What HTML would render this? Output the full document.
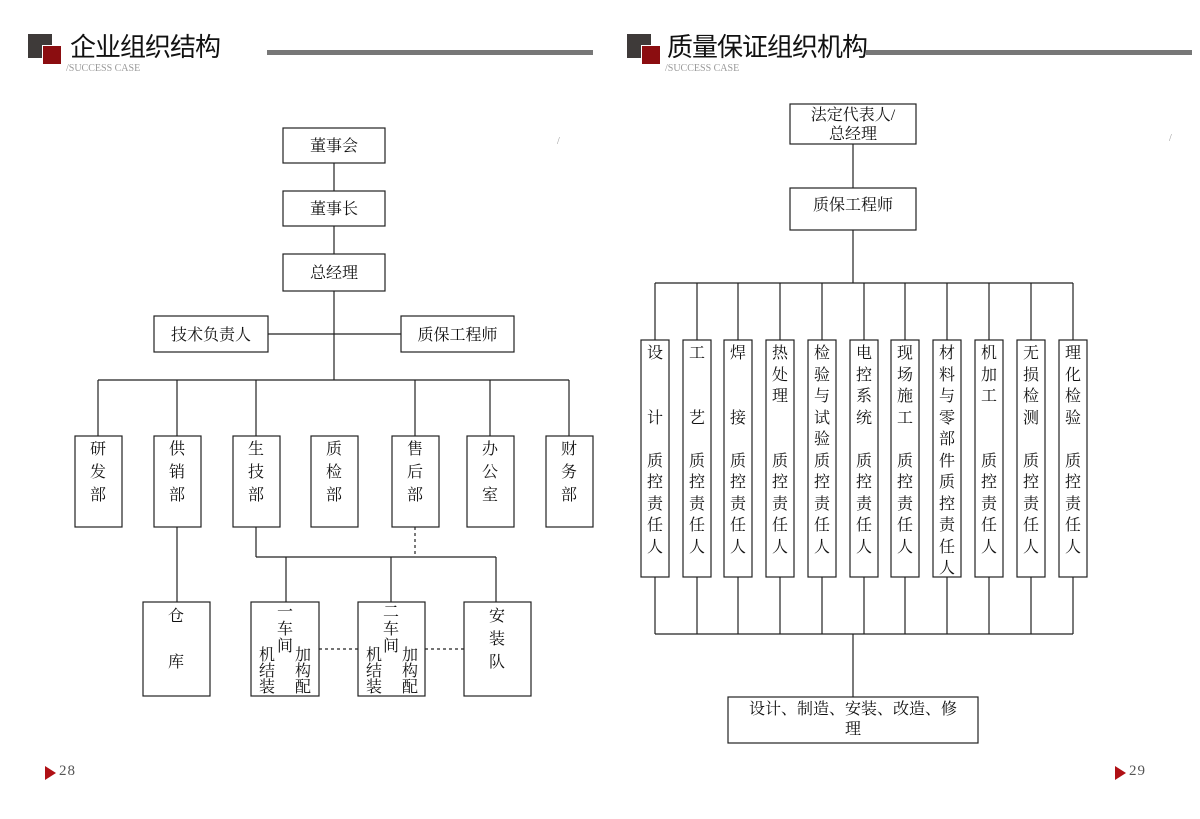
<!DOCTYPE html>
<html><head><meta charset="utf-8"><style>
body{margin:0;width:1200px;height:819px;background:#fff;position:relative;overflow:hidden;font-family:"Liberation Serif","Noto Serif CJK SC","Noto Sans CJK SC",serif;color:#111}
.a{position:absolute}
.v{position:absolute;font-size:16px;line-height:21.5px;text-align:center;width:20px}
.t{position:absolute;font-size:16px;text-align:center}
svg{position:absolute;left:0;top:0}
.h{font-family:"Noto Sans CJK SC",sans-serif;font-size:26px;letter-spacing:-1px;color:#111}
.s{font-family:"Liberation Serif",serif;font-size:10px;color:#999}
</style></head><body>
<div class="a" style="left:28px;top:34px;width:24px;height:24px;background:#3e3a39"></div>
<div class="a" style="left:42px;top:45px;width:18px;height:18px;background:#8b0d10;border:1px solid #fff"></div>
<div class="a h" style="left:70px;top:27px">企业组织结构</div>
<div class="a s" style="left:66px;top:63px">/SUCCESS CASE</div>
<div class="a" style="left:267px;top:50px;width:326px;height:5px;background:#777"></div>
<div class="a" style="left:627px;top:34px;width:24px;height:24px;background:#3e3a39"></div>
<div class="a" style="left:641px;top:45px;width:18px;height:18px;background:#8b0d10;border:1px solid #fff"></div>
<div class="a h" style="left:667px;top:27px">质量保证组织机构</div>
<div class="a s" style="left:665px;top:63px">/SUCCESS CASE</div>
<div class="a" style="left:866px;top:50px;width:326px;height:5px;background:#777"></div>
<div class="a s" style="left:557px;top:136px">/</div>
<div class="a s" style="left:1169px;top:133px">/</div>
<div class="a" style="left:45px;top:766px;width:0;height:0;border-left:11px solid #b01015;border-top:7px solid transparent;border-bottom:7px solid transparent"></div>
<div class="a" style="left:59px;top:763px;font-size:15px;color:#555;letter-spacing:1px">28</div>
<div class="a" style="left:1115px;top:766px;width:0;height:0;border-left:11px solid #b01015;border-top:7px solid transparent;border-bottom:7px solid transparent"></div>
<div class="a" style="left:1129px;top:763px;font-size:15px;color:#555;letter-spacing:1px">29</div>

<svg width="1200" height="819" fill="none" stroke="#222" stroke-width="1.2">
<!-- left -->
<rect x="283" y="128" width="102" height="35"/><rect x="283" y="191" width="102" height="35"/><rect x="283" y="254" width="102" height="37"/>
<rect x="154" y="316" width="114" height="36"/><rect x="401" y="316" width="113" height="36"/>
<line x1="334" y1="163" x2="334" y2="191"/><line x1="334" y1="226" x2="334" y2="254"/><line x1="334" y1="291" x2="334" y2="380"/>
<line x1="268" y1="334" x2="401" y2="334"/>
<line x1="98" y1="380" x2="569" y2="380"/>
<g>
<line x1="98" y1="380" x2="98" y2="436"/><line x1="177" y1="380" x2="177" y2="436"/><line x1="256" y1="380" x2="256" y2="436"/><line x1="415" y1="380" x2="415" y2="436"/><line x1="490" y1="380" x2="490" y2="436"/><line x1="569" y1="380" x2="569" y2="436"/>
</g>
<rect x="75" y="436" width="47" height="91"/><rect x="154" y="436" width="47" height="91"/><rect x="233" y="436" width="47" height="91"/><rect x="311" y="436" width="47" height="91"/><rect x="392" y="436" width="47" height="91"/><rect x="467" y="436" width="47" height="91"/><rect x="546" y="436" width="47" height="91"/>
<line x1="177" y1="527" x2="177" y2="602"/>
<line x1="256" y1="527" x2="256" y2="557"/><line x1="256" y1="557" x2="496" y2="557"/>
<line x1="415" y1="527" x2="415" y2="557" stroke-dasharray="3,3"/>
<line x1="286" y1="557" x2="286" y2="602"/><line x1="391" y1="557" x2="391" y2="602"/><line x1="496" y1="557" x2="496" y2="602"/>
<rect x="143" y="602" width="67" height="94"/><rect x="251" y="602" width="68" height="94"/><rect x="358" y="602" width="67" height="94"/><rect x="464" y="602" width="67" height="94"/>
<line x1="319" y1="649" x2="358" y2="649" stroke-dasharray="3,3"/><line x1="425" y1="649" x2="464" y2="649" stroke-dasharray="3,3"/>
<!-- right -->
<rect x="790" y="104" width="126" height="40"/><rect x="790" y="188" width="126" height="42"/>
<line x1="853" y1="144" x2="853" y2="188"/><line x1="853" y1="230" x2="853" y2="283"/>
<line x1="655" y1="283" x2="1073" y2="283"/><line x1="655" y1="634" x2="1073" y2="634"/>
<line x1="853" y1="634" x2="853" y2="697"/>
<rect x="728" y="697" width="250" height="46"/>
<g>
<line x1="655" y1="283" x2="655" y2="634"/><line x1="697" y1="283" x2="697" y2="634"/><line x1="738" y1="283" x2="738" y2="634"/><line x1="780" y1="283" x2="780" y2="634"/><line x1="822" y1="283" x2="822" y2="634"/><line x1="864" y1="283" x2="864" y2="634"/><line x1="905" y1="283" x2="905" y2="634"/><line x1="947" y1="283" x2="947" y2="634"/><line x1="989" y1="283" x2="989" y2="634"/><line x1="1031" y1="283" x2="1031" y2="634"/><line x1="1073" y1="283" x2="1073" y2="634"/>
</g>
<g fill="#fff">
<rect x="641" y="340" width="28" height="237"/><rect x="683" y="340" width="28" height="237"/><rect x="724" y="340" width="28" height="237"/><rect x="766" y="340" width="28" height="237"/><rect x="808" y="340" width="28" height="237"/><rect x="850" y="340" width="28" height="237"/><rect x="891" y="340" width="28" height="237"/><rect x="933" y="340" width="28" height="237"/><rect x="975" y="340" width="28" height="237"/><rect x="1017" y="340" width="28" height="237"/><rect x="1059" y="340" width="28" height="237"/>
</g>
</svg>

<div class="t" style="left:283px;top:133px;width:102px">董事会</div>
<div class="t" style="left:283px;top:196px;width:102px">董事长</div>
<div class="t" style="left:283px;top:260px;width:102px">总经理</div>
<div class="t" style="left:154px;top:322px;width:114px">技术负责人</div>
<div class="t" style="left:401px;top:322px;width:113px">质保工程师</div>
<div class="v" style="left:88px;top:438px;line-height:23px">研<br>发<br>部</div>
<div class="v" style="left:167px;top:438px;line-height:23px">供<br>销<br>部</div>
<div class="v" style="left:246px;top:438px;line-height:23px">生<br>技<br>部</div>
<div class="v" style="left:324px;top:438px;line-height:23px">质<br>检<br>部</div>
<div class="v" style="left:405px;top:438px;line-height:23px">售<br>后<br>部</div>
<div class="v" style="left:480px;top:438px;line-height:23px">办<br>公<br>室</div>
<div class="v" style="left:559px;top:438px;line-height:23px">财<br>务<br>部</div>
<div class="v" style="left:166px;top:605px;line-height:23px">仓<br>　<br>库</div>
<div class="v" style="left:275px;top:604px;line-height:17px">一<br>车<br>间</div>
<div class="v" style="left:257px;top:648px;line-height:16px">机<br>结<br>装</div>
<div class="v" style="left:293px;top:648px;line-height:16px">加<br>构<br>配</div>
<div class="v" style="left:381px;top:604px;line-height:17px">二<br>车<br>间</div>
<div class="v" style="left:364px;top:648px;line-height:16px">机<br>结<br>装</div>
<div class="v" style="left:400px;top:648px;line-height:16px">加<br>构<br>配</div>
<div class="v" style="left:487px;top:605px;line-height:23px">安<br>装<br>队</div>

<div class="t" style="left:790px;top:106px;width:126px;line-height:19px">法定代表人/<br>总经理</div>
<div class="t" style="left:790px;top:192px;width:126px">质保工程师</div>
<div class="t" style="left:728px;top:700px;width:250px;line-height:20px">设计、制造、安装、改造、修<br>理</div>

<div class="v" style="left:645px;top:343px">设<br>　<br>　<br>计<br>　<br>质<br>控<br>责<br>任<br>人</div>
<div class="v" style="left:687px;top:343px">工<br>　<br>　<br>艺<br>　<br>质<br>控<br>责<br>任<br>人</div>
<div class="v" style="left:728px;top:343px">焊<br>　<br>　<br>接<br>　<br>质<br>控<br>责<br>任<br>人</div>
<div class="v" style="left:770px;top:343px">热<br>处<br>理<br>　<br>　<br>质<br>控<br>责<br>任<br>人</div>
<div class="v" style="left:812px;top:343px">检<br>验<br>与<br>试<br>验<br>质<br>控<br>责<br>任<br>人</div>
<div class="v" style="left:854px;top:343px">电<br>控<br>系<br>统<br>　<br>质<br>控<br>责<br>任<br>人</div>
<div class="v" style="left:895px;top:343px">现<br>场<br>施<br>工<br>　<br>质<br>控<br>责<br>任<br>人</div>
<div class="v" style="left:937px;top:343px">材<br>料<br>与<br>零<br>部<br>件<br>质<br>控<br>责<br>任<br>人</div>
<div class="v" style="left:979px;top:343px">机<br>加<br>工<br>　<br>　<br>质<br>控<br>责<br>任<br>人</div>
<div class="v" style="left:1021px;top:343px">无<br>损<br>检<br>测<br>　<br>质<br>控<br>责<br>任<br>人</div>
<div class="v" style="left:1063px;top:343px">理<br>化<br>检<br>验<br>　<br>质<br>控<br>责<br>任<br>人</div>
</body></html>
